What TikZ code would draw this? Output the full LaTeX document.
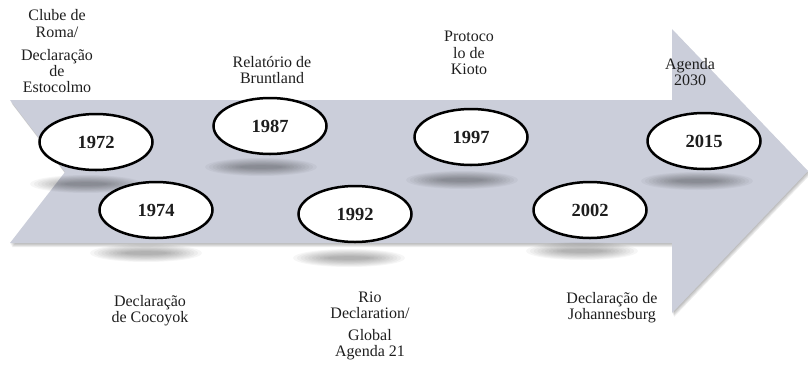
\documentclass[tikz,border=0pt]{standalone}
\usepackage{fontspec}
\setmainfont{Liberation Serif}
\usetikzlibrary{shapes.geometric}
\definecolor{arrowcol}{HTML}{CBCEDA}
\definecolor{txtcol}{HTML}{1E1E1E}
\newcommand\ellshadow[2]{%
  \foreach \k in {1,...,10}{\fill[black, opacity=0.035] (#1,#2) ellipse ({18+3.8*\k} and {1+0.8*\k});}}
\begin{document}
\begin{tikzpicture}[x=1pt,y=-1pt,
  year/.style={ellipse, draw=black, line width=2.5pt, fill=white,
    minimum width=113pt, minimum height=56pt, inner sep=0pt,
    font=\fontsize{18.5}{20}\selectfont\bfseries, text=txtcol},
  lab/.style={align=center, inner sep=0pt, text=txtcol,
    font=\fontsize{16}{16.3}\selectfont}]
\useasboundingbox (0,0) rectangle (808,365);
% arrow shadow
\foreach \d in {1,2,3,4}{
  \fill[black, opacity=0.07, shift={(0.5*\d,\d)}]
    (10,100) -- (672,100) -- (672,29) -- (808,171) -- (672,313) -- (672,243) -- (10,243) -- (65,172) -- cycle;}
% arrow
\fill[arrowcol] (10,100) -- (672,100) -- (672,29) -- (808,171) -- (672,313) -- (672,243) -- (10,243) -- (65,172) -- cycle;
% ellipse shadows
\ellshadow{86}{184}
\ellshadow{261}{167}
\ellshadow{146}{253}
\ellshadow{349}{258}
\ellshadow{462}{180}
\ellshadow{582}{251}
\ellshadow{697}{181}
% year ellipses
\node[year] (y1972) at (96,142) {1972};
\node[year] (y1987) at (270,126) {1987};
\node[year] (y1974) at (156,210) {1974};
\node[year] (y1992) at (355,214) {1992};
\node[year] (y1997) at (471,137) {1997};
\node[year] (y2002) at (590,210) {2002};
\node[year] (y2015) at (704,141) {2015};
% labels
\node[lab] (l1) at (57,23.5) {Clube de\\Roma/};
\node[lab] (l2) at (57,71) {Declaração\\de\\Estocolmo};
\node[lab] (l3) at (272,70) {Relatório de\\Bruntland};
\node[lab] (l4) at (469,53) {Protoco\\lo de\\Kioto};
\node[lab] (l5) at (690,72) {Agenda\\2030};
\node[lab] (l6) at (150,311) {Declaração\\de Cocoyok};
\node[lab] (l7) at (370,305) {Rio\\Declaration/};
\node[lab] (l8) at (370,345) {Global\\Agenda 21};
\node[lab] (l9) at (612,308) {Declaração de\\Johannesburg};
\end{tikzpicture}
\end{document}
